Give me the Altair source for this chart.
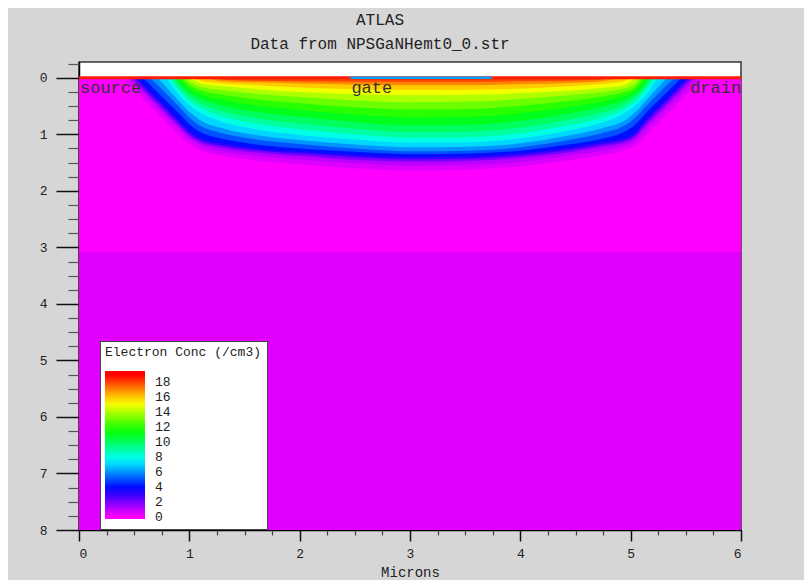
import altair as alt
import pandas as pd

MONO = "Liberation Mono"

# ---------------- data ----------------
x_domain = [0, 6]
y_domain = [-0.28, 8]

# semiconductor regions (background field level)
region_x_start = [0.0, 0.0]
region_x_end = [6.0, 6.0]
region_top = [0.0, 3.08]
region_bottom = [3.08, 8.0]
region_level = [0.0, 0.45]

# electrodes
electrode_names = ["source", "gate", "drain"]
electrode_x_start = [0.0, 2.46, 5.53]
electrode_x_end = [0.5, 3.74, 6.0]
surface_depth = [0.0, 0.0, 0.0]

# contour levels (lower bound of each filled band)
contour_levels = [0.5, 1, 2, 3, 4, 5, 6, 7, 8, 9, 10, 11, 12, 13, 14, 15, 16, 17, 18]
surface_left = [0.40, 0.44, 0.47, 0.50, 0.52, 0.58, 0.64, 0.71, 0.79, 0.82,
                0.85, 0.87, 0.90, 0.93, 0.96, 1.00, 1.04, 1.12, 1.20]
surface_right = [5.66, 5.61, 5.57, 5.54, 5.52, 5.46, 5.40, 5.33, 5.25, 5.22,
                 5.19, 5.17, 5.14, 5.11, 5.08, 5.04, 5.00, 4.92, 4.84]

stations_x = [0.6, 0.75, 0.9, 1.0, 1.1, 1.3, 1.6, 2.0, 2.5, 3.0,
              3.54, 4.04, 4.44, 4.74, 4.94, 5.04, 5.14, 5.29, 5.44]
N = None
depth_rows = [
    [0.40, 0.70, 1.00, 1.17, 1.28, 1.38, 1.46, 1.53, 1.60, 1.64, 1.62, 1.56, 1.46, 1.37, 1.28, 1.20, 1.02, 0.72, 0.43],
    [0.31, 0.61, 0.90, 1.08, 1.20, 1.30, 1.38, 1.45, 1.51, 1.55, 1.54, 1.48, 1.38, 1.29, 1.21, 1.12, 0.92, 0.62, 0.33],
    [0.25, 0.55, 0.84, 1.03, 1.15, 1.24, 1.32, 1.38, 1.45, 1.48, 1.47, 1.41, 1.32, 1.22, 1.15, 1.06, 0.84, 0.55, 0.25],
    [0.20, 0.49, 0.79, 0.99, 1.11, 1.20, 1.28, 1.34, 1.40, 1.44, 1.43, 1.37, 1.28, 1.18, 1.11, 1.01, 0.78, 0.49, 0.19],
    [0.16, 0.45, 0.74, 0.94, 1.07, 1.16, 1.25, 1.31, 1.37, 1.40, 1.39, 1.33, 1.24, 1.14, 1.07, 0.97, 0.74, 0.45, 0.16],
    [0.04, 0.33, 0.62, 0.82, 0.96, 1.08, 1.18, 1.25, 1.31, 1.35, 1.34, 1.28, 1.18, 1.08, 0.96, 0.83, 0.62, 0.33, 0.04],
    [N, 0.20, 0.50, 0.70, 0.85, 0.98, 1.09, 1.17, 1.25, 1.30, 1.29, 1.22, 1.10, 0.98, 0.85, 0.71, 0.50, 0.20, N],
    [N, 0.08, 0.40, 0.60, 0.75, 0.89, 1.01, 1.10, 1.18, 1.23, 1.22, 1.15, 1.02, 0.89, 0.76, 0.61, 0.40, 0.08, N],
    [N, N, 0.28, 0.48, 0.62, 0.78, 0.91, 1.01, 1.09, 1.15, 1.14, 1.06, 0.93, 0.79, 0.63, 0.49, 0.29, N, N],
    [N, N, 0.20, 0.40, 0.53, 0.68, 0.81, 0.91, 1.00, 1.06, 1.05, 0.97, 0.84, 0.70, 0.55, 0.42, 0.21, N, N],
    [N, N, 0.14, 0.33, 0.45, 0.59, 0.71, 0.81, 0.90, 0.96, 0.95, 0.87, 0.74, 0.61, 0.48, 0.35, 0.15, N, N],
    [N, N, 0.08, 0.26, 0.37, 0.49, 0.60, 0.69, 0.78, 0.84, 0.83, 0.75, 0.63, 0.51, 0.40, 0.29, 0.09, N, N],
    [N, N, N, 0.19, 0.29, 0.39, 0.49, 0.57, 0.65, 0.70, 0.69, 0.62, 0.52, 0.42, 0.32, 0.23, N, N, N],
    [N, N, N, 0.13, 0.22, 0.30, 0.38, 0.45, 0.52, 0.56, 0.55, 0.49, 0.41, 0.33, 0.25, 0.17, N, N, N],
    [N, N, N, 0.07, 0.16, 0.22, 0.28, 0.34, 0.40, 0.43, 0.42, 0.37, 0.31, 0.25, 0.19, 0.11, N, N, N],
    [N, N, N, N, 0.10, 0.15, 0.20, 0.25, 0.29, 0.31, 0.30, 0.27, 0.23, 0.18, 0.13, N, N, N, N],
    [N, N, N, N, 0.05, 0.10, 0.13, 0.17, 0.20, 0.21, 0.21, 0.19, 0.15, 0.11, 0.06, N, N, N, N],
    [N, N, N, N, N, 0.06, 0.08, 0.10, 0.12, 0.13, 0.13, 0.11, 0.09, 0.06, N, N, N, N, N],
    [N, N, N, N, N, 0.03, 0.05, 0.06, 0.07, 0.07, 0.07, 0.06, 0.05, 0.03, N, N, N, N, N],
]

# colour scale stops (level -> colour)
color_stops = [-0.3, 0, 1.9, 3.8, 5.7, 7.6, 9.5, 11.4, 13.3, 15.2, 17.1, 19, 19.5]
color_range = ["#ff00ff", "#ff00ff", "#8000ff", "#0000ff", "#0080ff", "#00ffff", "#00ff80",
               "#00ff00", "#80ff00", "#ffff00", "#ff8000", "#ff0000", "#ff0000"]
legend_values = [0, 2, 4, 6, 8, 10, 12, 14, 16, 18]

x_major_ticks = [0, 1, 2, 3, 4, 5, 6]
y_major_ticks = [0, 1, 2, 3, 4, 5, 6, 7, 8]
x_minor_ticks = [q / 4 for q in range(0, 25) if q % 4]
y_minor_ticks = [q / 4 for q in range(-1, 33) if q % 4]

# ---------------- chart ----------------
color_scale = alt.Scale(domain=color_stops, range=color_range, interpolate="rgb")
legend = alt.Legend(
    title="Electron Conc (/cm3)", orient="none", legendX=21, legendY=279,
    direction="vertical", gradientLength=148, gradientThickness=40,
    gradientStrokeWidth=0, values=legend_values, labelOverlap=False,
    fillColor="white", strokeColor="#444", padding=5,
    titleFont=MONO, titleFontSize=13, titleFontWeight="normal", titleColor="#222",
    titlePadding=12, titleLimit=200,
    labelFont=MONO, labelFontSize=13, labelColor="#222", labelOffset=10,
    labelBaseline="middle",
)


def color_enc():
    return alt.Color("level:Q", scale=color_scale, legend=legend)


x_scale = alt.Scale(domain=x_domain, nice=False, zero=False)
y_scale = alt.Scale(domain=y_domain, reverse=True, nice=False, zero=False)

x_major = alt.Axis(orient="bottom", values=x_major_ticks, tickSize=11, tickWidth=1.5,
                   tickColor="#111", domainColor="#000", domainWidth=1.5, grid=False,
                   labelFont=MONO, labelFontSize=13, labelColor="#222", labelPadding=6,
                   title="Microns", titleFont=MONO, titleFontSize=14,
                   titleFontWeight="normal", titleColor="#222", titlePadding=5)
y_major = alt.Axis(orient="left", values=y_major_ticks, tickSize=23, tickWidth=1.5,
                   tickColor="#111", domainColor="#000", domainWidth=1.5, grid=False,
                   labelFont=MONO, labelFontSize=13, labelColor="#222", labelPadding=9,
                   title=None)
x_minor = alt.Axis(orient="bottom", values=x_minor_ticks, tickSize=5, tickWidth=1.2,
                   tickColor="#444", labels=False, domain=False, grid=False, title=None)
y_minor = alt.Axis(orient="left", values=y_minor_ticks, tickSize=11, tickWidth=1.2,
                   tickColor="#555", labels=False, domain=False, grid=False, title=None)

regions = pd.DataFrame({"x": region_x_start, "x2": region_x_end,
                        "y": region_top, "y2": region_bottom, "level": region_level})
base = alt.Chart(regions).mark_rect().encode(
    x=alt.X("x:Q", scale=x_scale, axis=x_major),
    x2="x2:Q",
    y=alt.Y("y:Q", scale=y_scale, axis=y_major),
    y2="y2:Q",
    color=color_enc(),
)

area_layers = []
for lvl, xl, xr, row in zip(contour_levels, surface_left, surface_right, depth_rows):
    xs, ds = [xl], [0.0]
    for sx, d in zip(stations_x, row):
        if d is not None:
            xs.append(sx)
            ds.append(d)
    xs.append(xr)
    ds.append(0.0)
    df = pd.DataFrame({"x": xs, "depth": ds, "level": [lvl] * len(xs)})
    area_layers.append(
        alt.Chart(df).mark_area(interpolate="monotone").encode(
            x=alt.X("x:Q", scale=x_scale, axis=None),
            y=alt.Y("depth:Q", scale=y_scale, axis=None, stack=None),
            color=color_enc(),
        )
    )

surface = alt.Chart(pd.DataFrame({"x": [x_domain[0]], "x2": [x_domain[1]], "y": [0.0]})).mark_rule(
    color="#ff1a00", strokeWidth=3
).encode(
    x=alt.X("x:Q", scale=x_scale, axis=x_minor),
    x2="x2:Q",
    y=alt.Y("y:Q", scale=y_scale, axis=y_minor),
)

electrodes = pd.DataFrame({"name": electrode_names, "x": electrode_x_start,
                           "x2": electrode_x_end, "y": surface_depth})
gate = alt.Chart(electrodes[electrodes["name"] == "gate"]).mark_rule(
    color="#0a9cff", strokeWidth=2.5
).encode(
    x=alt.X("x:Q", scale=x_scale, axis=None),
    x2="x2:Q",
    y=alt.Y("y:Q", scale=y_scale, axis=None),
)

labels = alt.Chart(electrodes).mark_text(
    align="left", baseline="top", dy=2, dx=1, font=MONO, fontSize=17, color="#333"
).encode(
    x=alt.X("x:Q", scale=x_scale, axis=None),
    y=alt.Y("y:Q", scale=y_scale, axis=None),
    text="name:N",
)

chart = alt.layer(base, *area_layers, surface, gate, labels).resolve_axis(
    x="independent", y="independent"
).properties(
    width=662,
    height=468,
    autosize=alt.AutoSizeParams(type="none"),
    padding={"left": 71, "top": 54, "right": 63, "bottom": 50},
    background="#d6d6d6",
    title=alt.TitleParams(
        text="ATLAS", subtitle="Data from NPSGaNHemt0_0.str",
        font=MONO, fontSize=16, fontWeight="normal", color="#222",
        subtitleFont=MONO, subtitleFontSize=16, subtitleColor="#222",
        subtitlePadding=8, anchor="middle", dx=-30, offset=10,
    ),
).configure_view(fill="white", stroke="#333", strokeWidth=1.5)

chart.save("out.html", embed_options={"renderer": "svg", "actions": False})
